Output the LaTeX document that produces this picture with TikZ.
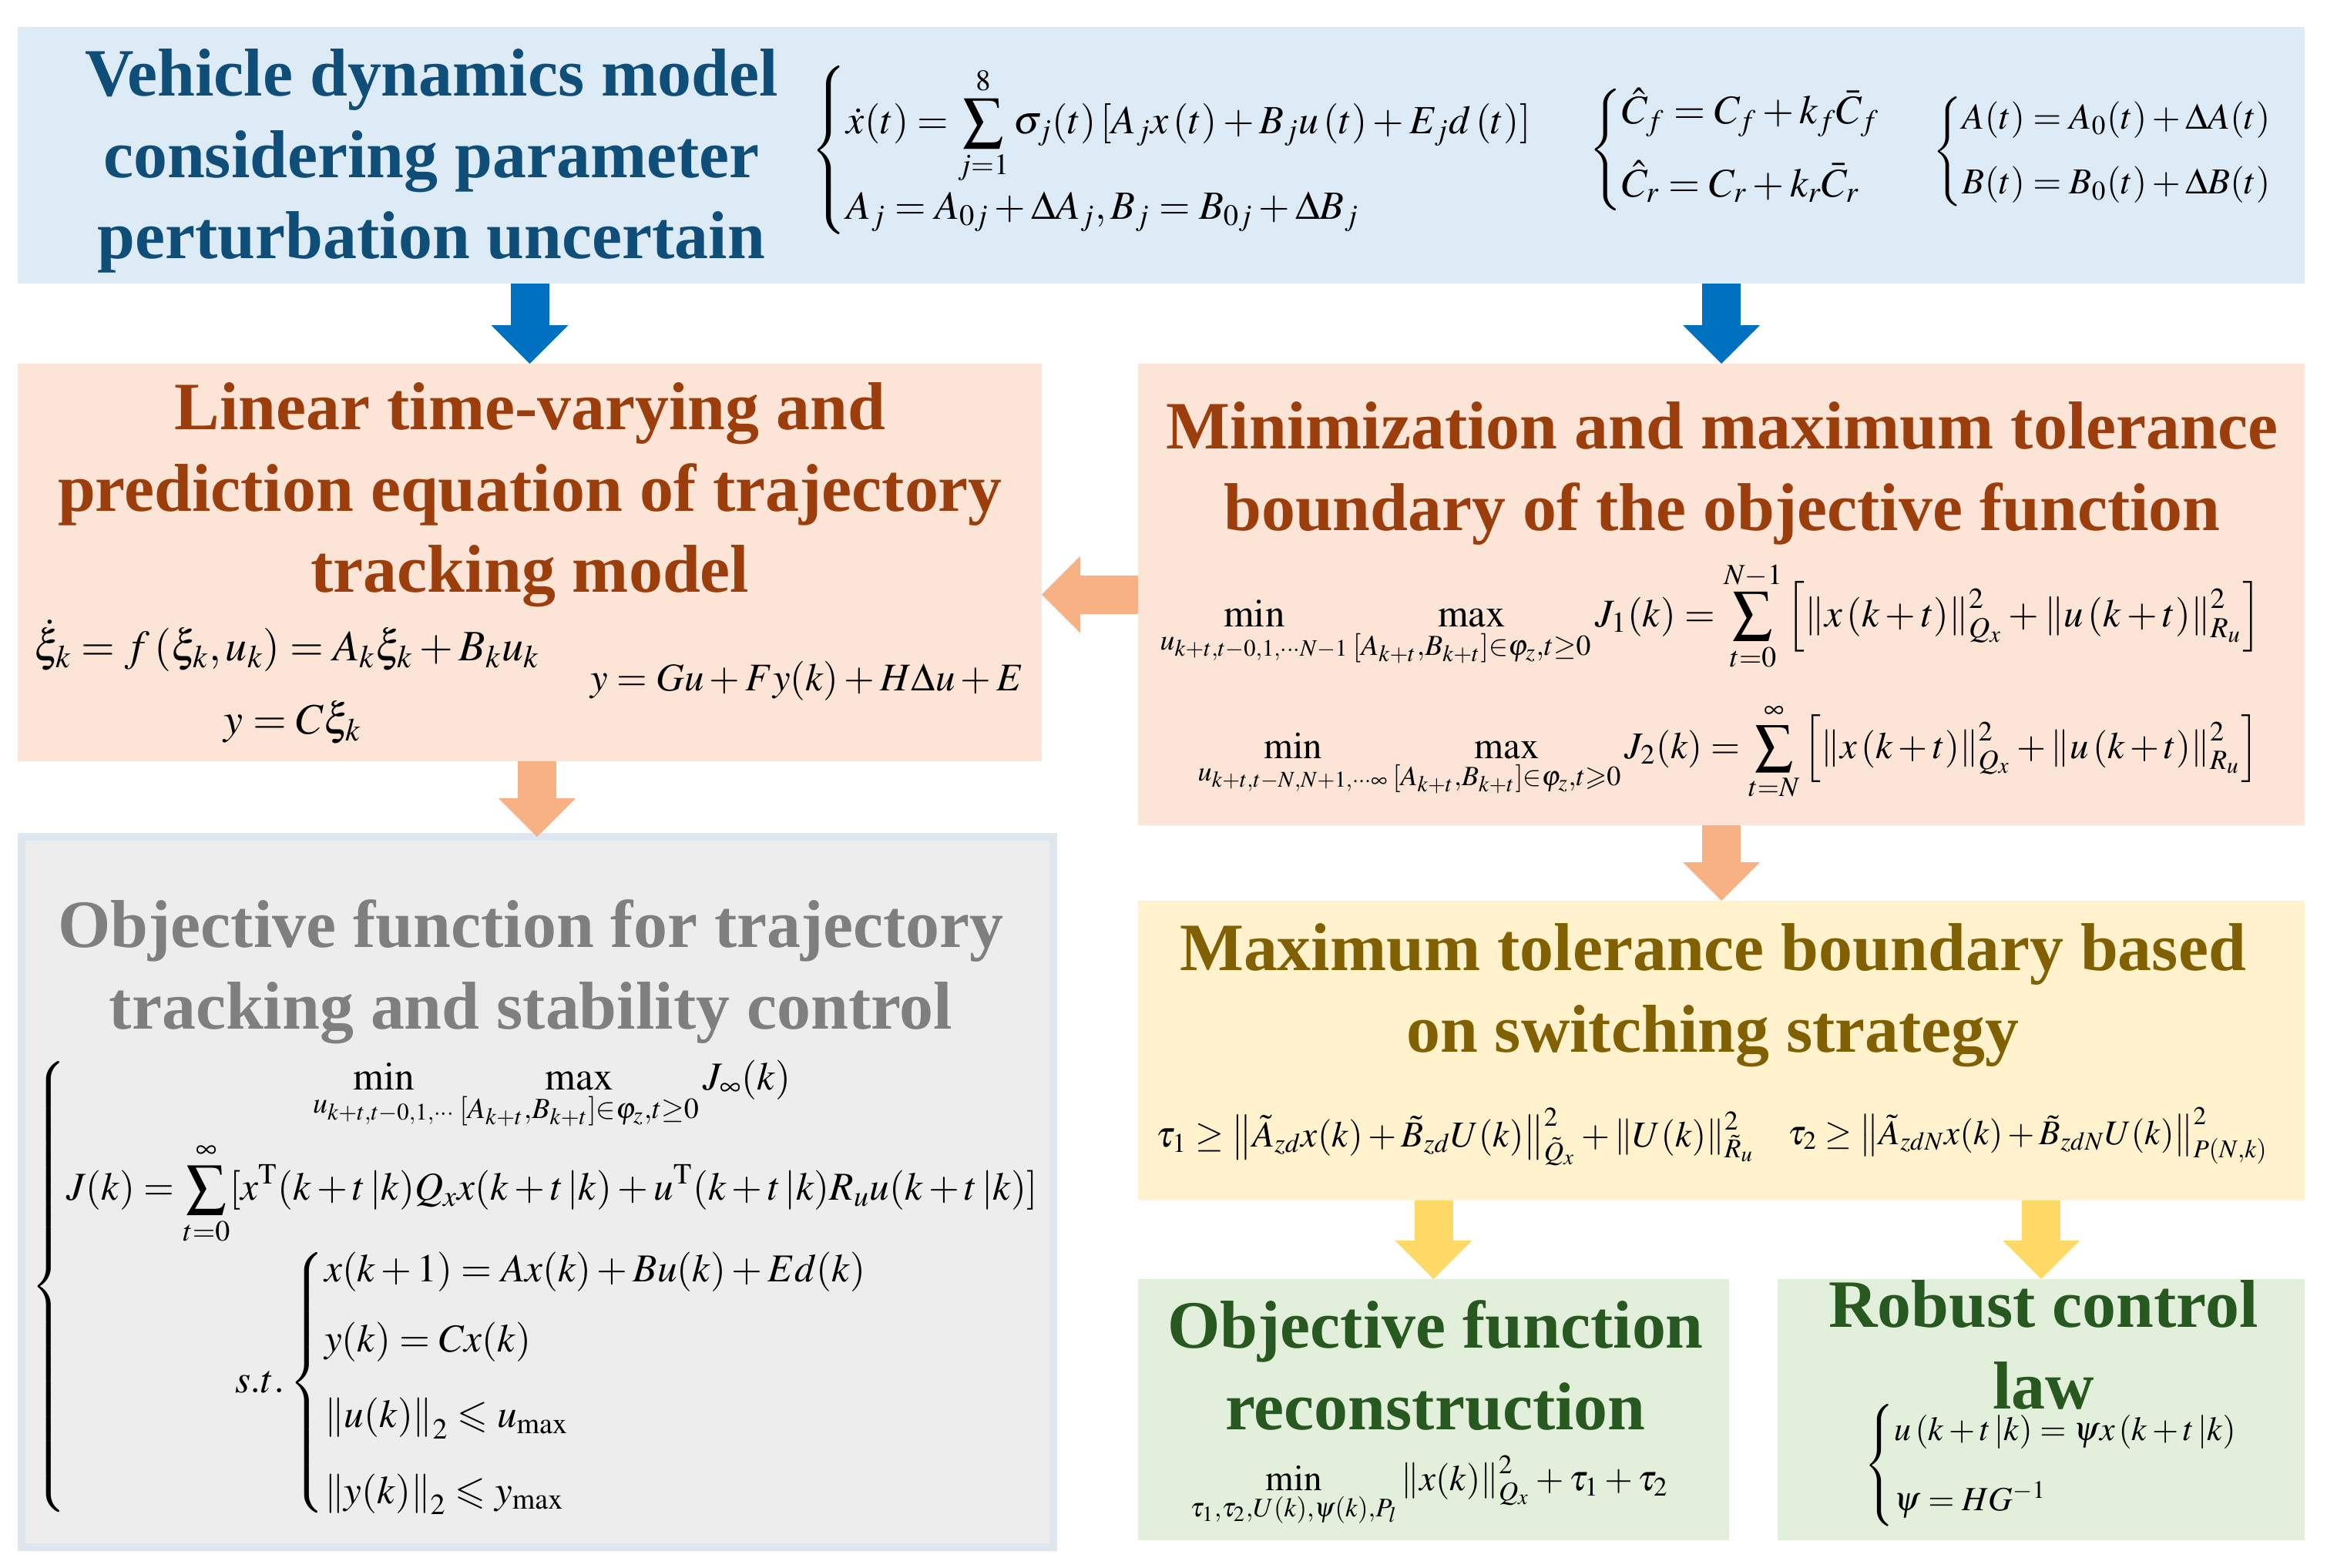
\documentclass[tikz,border=0pt]{standalone}
\usepackage{amsmath}
\usepackage{amssymb}
\usepackage{mathptmx}
\usepackage[no-math]{fontspec}
\setmainfont{Liberation Serif}
\usetikzlibrary{arrows.meta}

\definecolor{topfill}{RGB}{221,235,247}
\definecolor{toptext}{RGB}{16,78,122}
\definecolor{flowblue}{RGB}{0,112,192}
\definecolor{orfill}{RGB}{252,228,214}
\definecolor{ortext}{RGB}{156,62,12}
\definecolor{flowor}{RGB}{247,177,131}
\definecolor{grfill}{RGB}{237,237,237}
\definecolor{grline}{RGB}{222,230,238}
\definecolor{grtext}{RGB}{127,127,127}
\definecolor{yefill}{RGB}{255,242,204}
\definecolor{yetext}{RGB}{128,96,0}
\definecolor{flowye}{RGB}{255,217,102}
\definecolor{gnfill}{RGB}{226,239,218}
\definecolor{gntext}{RGB}{38,88,32}

\tikzset{
  panel/.style={
    rectangle,
    inner sep=0pt,
    outer sep=0pt
  },
  ttl/.style={
    font=\fontsize{25}{30}\selectfont\bfseries,
    align=center,
    inner sep=0pt,
    anchor=north
  },
  eq/.style={
    font=\fontsize{#1}{18}\selectfont,
    inner sep=0pt
  },
  eq/.default=15,
  flow/.style={
    line width=5mm,
    -{Triangle[width=10mm,length=5mm,line width=0pt]}
  }
}

\begin{document}
\begin{tikzpicture}
  \useasboundingbox (0,0) rectangle (30.2,-20.34);

  %% ---- panels ----
  \node[panel, fill=topfill, minimum width=29.68cm, minimum height=3.33cm] (top) at (15.07,-2.015) {};
  \node[panel, fill=orfill, minimum width=13.29cm, minimum height=5.16cm] (lin) at (6.875,-7.30) {};
  \node[panel, fill=orfill, minimum width=15.14cm, minimum height=5.99cm] (minmax) at (22.34,-7.715) {};
  \node[panel, fill=grfill, draw=grline, line width=1mm, minimum width=13.39cm, minimum height=9.22cm] (objfun) at (6.97,-15.47) {};
  \node[panel, fill=yefill, minimum width=15.14cm, minimum height=3.89cm] (tol) at (22.34,-13.635) {};
  \node[panel, fill=gnfill, minimum width=7.67cm, minimum height=3.39cm] (recon) at (18.605,-18.295) {};
  \node[panel, fill=gnfill, minimum width=6.84cm, minimum height=3.39cm] (robust) at (26.49,-18.295) {};

  %% ---- arrows ----
  \draw[flow, flowblue] (top.south -| lin.north) -- (lin.north);
  \draw[flow, flowblue] (top.south -| minmax.north) -- (minmax.north);
  \draw[flow, flowor] (minmax.west) -- (lin.east |- minmax.west);
  \draw[flow, flowor] (objfun.north |- lin.south) -- (objfun.north);
  \draw[flow, flowor] (minmax.south) -- (tol.north);
  \draw[flow, flowye] (tol.south -| recon.north) -- (recon.north);
  \draw[flow, flowye] (tol.south -| robust.north) -- (robust.north);

  %% ---- titles ----
  \node[ttl, text=toptext] (ttop) at (5.60,-0.63) {Vehicle dynamics model\\considering parameter\\perturbation uncertain};
  \node[ttl, text=ortext] (tlin) at (6.88,-4.96) {Linear time-varying and\\prediction equation of trajectory\\tracking model};
  \node[ttl, text=ortext] (tmin) at (22.35,-5.21) {Minimization and maximum tolerance\\boundary of the objective function};
  \node[ttl, text=grtext] (tobj) at (6.89,-11.67) {Objective function for trajectory\\tracking and stability control};
  \node[ttl, text=yetext] (ttol) at (22.23,-11.98) {Maximum tolerance boundary based\\on switching strategy};
  \node[ttl, text=gntext] (trec) at (18.63,-16.87) {Objective function\\reconstruction};
  \node[ttl, text=gntext] (trob) at (26.52,-16.61) {Robust control\\law};

  %% ---- model equations ----
  \node[eq=14.8, anchor=west] (eqsys) at (10.52,-1.95) {$\left\{\begin{array}{@{}l@{}}
    \dot{x}(t)=\displaystyle\sum_{j=1}^{8}\sigma_j(t)\left[A_jx\left(t\right)+B_ju\left(t\right)+E_jd\left(t\right)\right]\\[4pt]
    A_j=A_{0j}+\Delta A_j,B_j=B_{0j}+\Delta B_j
  \end{array}\right.$};
  \node[eq, anchor=west] (eqcorn) at (20.62,-1.94) {$\left\{\begin{array}{@{}l@{}}
    \hat{C}_f=C_f+k_f\bar{C}_f\\[8pt]
    \hat{C}_r=C_r+k_r\bar{C}_r
  \end{array}\right.$};
  \node[eq=13.5, anchor=west] (eqAB) at (25.08,-1.97) {$\left\{\begin{array}{@{}l@{}}
    A(t)=A_0(t)+\Delta A(t)\\[6pt]
    B(t)=B_0(t)+\Delta B(t)
  \end{array}\right.$};

  %% ---- prediction equations ----
  \node[eq=16, anchor=base west] (eqxi) at (0.44,-8.57) {$\dot{\xi}_k=f\left(\xi_k,u_k\right)=A_k\xi_k+B_ku_k$};
  \node[eq=16, anchor=base west] (eqy) at (2.90,-9.52) {$y=C\xi_k$};
  \node[eq=14.5, anchor=base west] (eqpred) at (7.66,-8.96) {$y=Gu+Fy(k)+H\Delta u+E$};

  %% ---- min-max equations ----
  \node[eq=14.5, anchor=base west] (eqJone) at (15.05,-8.13) {$\displaystyle\min_{u_{k+t,t-0,1,\cdots N-1}}\max_{[A_{k+t},B_{k+t}]\in\varphi_z,t\ge0}J_1(k)=\sum_{t=0}^{N-1}\left[\left\|x\left(k+t\right)\right\|_{Q_x}^2+\left\|u\left(k+t\right)\right\|_{R_u}^2\right]$};
  \node[eq=13.9, anchor=base west] (eqJtwo) at (15.54,-9.84) {$\displaystyle\min_{u_{k+t,t-N,N+1,\cdots\infty}}\max_{[A_{k+t},B_{k+t}]\in\varphi_z,t\geqslant0}J_2(k)=\sum_{t=N}^{\infty}\left[\left\|x\left(k+t\right)\right\|_{Q_x}^2+\left\|u\left(k+t\right)\right\|_{R_u}^2\right]$};

  %% ---- objective function ----
  \node[eq=14.6, anchor=west] (eqobj) at (0.40,-16.70) {$\left\{\begin{array}{@{}c@{}}
    \displaystyle\min_{u_{k+t,t-0,1,\cdots}}\max_{[A_{k+t},B_{k+t}]\in\varphi_z,t\ge0}J_\infty(k)\\[14pt]
    \displaystyle J(k)=\sum_{t=0}^{\infty}[x^{\mathrm{T}}(k+t\,|k)Q_xx(k+t\,|k)+u^{\mathrm{T}}(k+t\,|k)R_uu(k+t\,|k)]\\[12pt]
    s.t.\left\{\begin{array}{@{}l@{}}
      x(k+1)=Ax(k)+Bu(k)+Ed(k)\\[8pt]
      y(k)=Cx(k)\\[10pt]
      \left\|u(k)\right\|_2\leqslant u_{\max}\\[10pt]
      \left\|y(k)\right\|_2\leqslant y_{\max}
    \end{array}\right.
  \end{array}\right.$};

  %% ---- tolerance boundary ----
  \node[eq=13.5, anchor=base west] (eqtauone) at (15.00,-14.88) {$\tau_1\ge\left\|\tilde{A}_{zd}x(k)+\tilde{B}_{zd}U(k)\right\|_{\tilde{Q}_x}^2+\left\|U(k)\right\|_{\tilde{R}_u}^2$};
  \node[eq=12.8, anchor=base west] (eqtautwo) at (23.20,-14.85) {$\tau_2\ge\left\|\tilde{A}_{zdN}x(k)+\tilde{B}_{zdN}U(k)\right\|_{P(N,k)}^2$};

  %% ---- reconstruction and control law ----
  \node[eq=13.4, anchor=base west] (eqrecon) at (15.44,-19.34) {$\displaystyle\min_{\tau_1,\tau_2,U(k),\psi(k),P_l}\left\|x(k)\right\|_{Q_x}^2+\tau_1+\tau_2$};
  \node[eq=12.5, anchor=west] (eqlaw) at (24.19,-19.02) {$\left\{\begin{array}{@{}l@{}}
    u\left(k+t\,|k\right)=\psi x\left(k+t\,|k\right)\\[8pt]
    \psi=HG^{-1}
  \end{array}\right.$};

\end{tikzpicture}
\end{document}
